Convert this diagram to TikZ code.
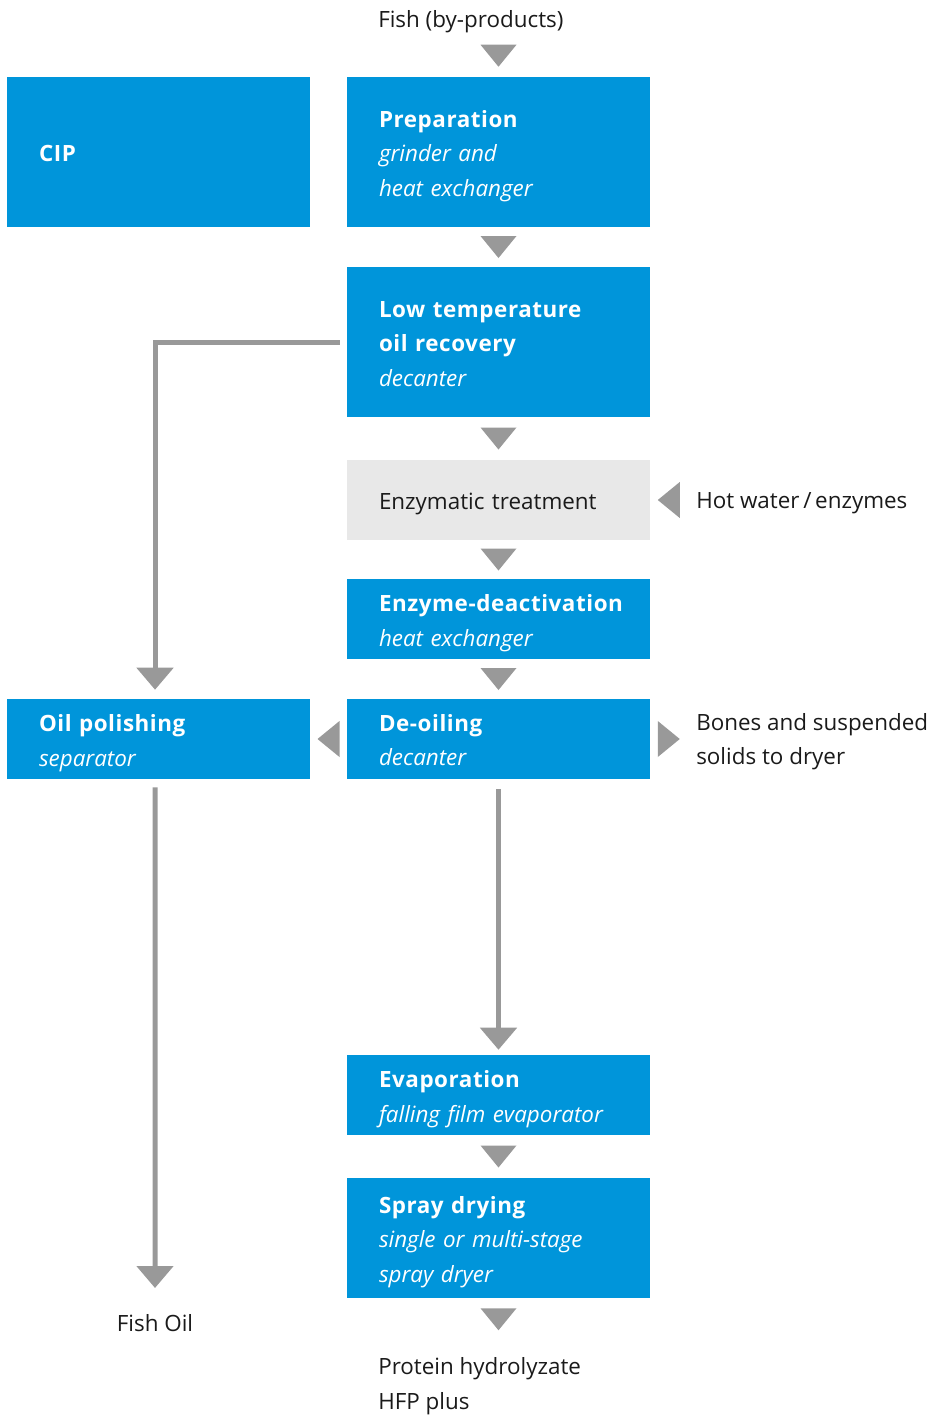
\documentclass[tikz,border=0pt]{standalone}
\usepackage{fontspec}
\setmainfont{Open Sans}[BoldFeatures={LetterSpace=2.5}]
\usetikzlibrary{arrows.meta,calc}
\definecolor{boxblue}{HTML}{0095DA}
\definecolor{arrgray}{HTML}{999999}
\definecolor{lightbox}{HTML}{E8E8E8}
\definecolor{txt}{HTML}{1A1A1A}
\newcommand\tdown[1]{\fill[arrgray] ($#1+(-18,-11)$) -- ($#1+(18,-11)$) -- ($#1+(0,11)$) -- cycle;}
\newcommand\tleft[1]{\fill[arrgray] ($#1+(11,-18)$) -- ($#1+(11,18)$) -- ($#1+(-11,0)$) -- cycle;}
\newcommand\tright[1]{\fill[arrgray] ($#1+(-11,-18)$) -- ($#1+(-11,18)$) -- ($#1+(11,0)$) -- cycle;}
\begin{document}
\begin{tikzpicture}[x=0.75pt,y=-0.75pt,
  every node/.style={font=\fontsize{16.8}{25.9}\selectfont},
  boxdrop/.style={execute at begin node={\rule{0pt}{#1}}},
  boxlift/.style={execute at end node={\rule[-#1]{0pt}{#1}}},
  box/.style={fill=boxblue,text=white,minimum width=227.25pt,text width=179.25pt,
    inner xsep=24pt,inner ysep=0pt,align=left,anchor=center,boxdrop=19pt},
  graybox/.style={box,fill=lightbox,text=txt},
  lbl/.style={text=txt,inner sep=0pt,align=left},
  conn/.style={draw=arrgray,line width=3.75pt,-{Triangle[width=27pt,length=16.5pt]}}
]
\useasboundingbox (0,0) rectangle (928,1415);

% boxes
\node[box,minimum height=112.5pt,boxlift=4.5pt] (cip) at (158.5,152) {\textbf{CIP}};
\node[box,minimum height=112.5pt] (prep) at (498.5,152)
  {\textbf{Preparation}\\\textit{grinder and}\\\textit{heat exchanger}};
\node[box,minimum height=112.5pt,boxlift=4.5pt] (low) at (498.5,342)
  {\textbf{Low temperature}\\\textbf{oil recovery}\\\textit{decanter}};
\node[graybox,minimum height=60pt] (enz) at (498.5,500) {Enzymatic treatment};
\node[box,minimum height=60pt] (deact) at (498.5,619)
  {\mbox{\textbf{Enzyme-deactivation}}\\\textit{heat exchanger}};
\node[box,minimum height=60pt] (oil) at (158.5,739)
  {\textbf{Oil polishing}\\\textit{separator}};
\node[box,minimum height=60pt,boxlift=4.5pt] (deoil) at (498.5,739)
  {\textbf{De-oiling}\\\textit{decanter}};
\node[box,minimum height=60pt] (evap) at (498.5,1095)
  {\textbf{Evaporation}\\\textit{falling film evaporator}};
\node[box,minimum height=90pt] (spray) at (498.5,1238)
  {\textbf{Spray drying}\\\textit{single or multi-stage}\\\textit{spray dryer}};

% labels
\node[lbl,anchor=west] (fish) at (378,22) {Fish (by-products)};
\node[lbl,anchor=west] (hot) at (696,503) {Hot water\,/\,enzymes};
\node[lbl,anchor=west] (bones) at (696,741.5) {Bones and suspended\\solids to dryer};
\node[lbl] (fishoil) at (155,1323) {Fish Oil};
\node[lbl,anchor=west] (protein) at (378,1386) {Protein hydrolyzate\\HFP plus};
\coordinate (oilend) at (155,1288);

% triangles
\tdown{(prep.north)+(0,-21)}
\tdown{($(prep.south)!0.5!(low.north)$)}
\tdown{($(low.south)!0.5!(enz.north)$)}
\tdown{($(enz.south)!0.5!(deact.north)$)}
\tdown{($(deact.south)!0.5!(deoil.north)$)}
\tdown{($(evap.south)!0.5!(spray.north)$)}
\tdown{(spray.south)+(0,21)}
\tleft{($(oil.east)!0.5!(deoil.west)$)}
\tright{(deoil.east)+(18.5,0)}
\tleft{(enz.east)+(18.5,0)}

% connectors
\draw[conn] ([xshift=-5.25pt]low.west) -| ([xshift=-2.6pt,yshift=6.75pt]oil.north);
\draw[conn] ([xshift=-2.6pt,yshift=-6pt]oil.south) -- (oilend);
\draw[conn] ([yshift=-7.5pt]deoil.south) -- ([yshift=3.75pt]evap.north);
\end{tikzpicture}
\end{document}
